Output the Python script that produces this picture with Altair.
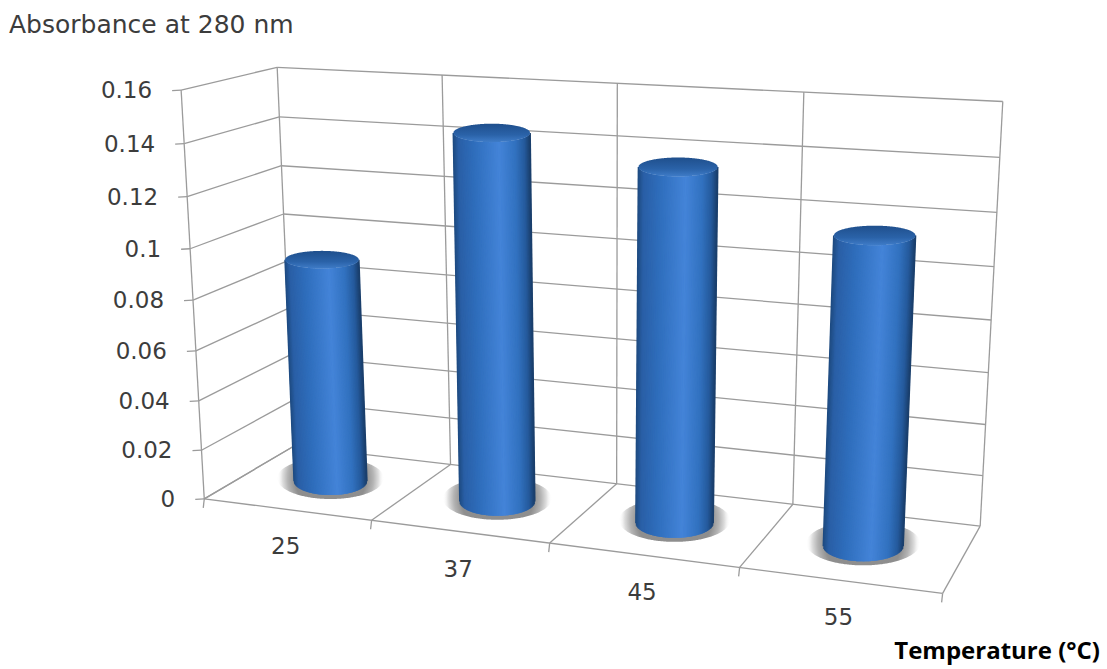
import altair as alt
import numpy as np
import pandas as pd

# Chart values
temperatures = ["25", "37", "45", "55"]
absorbance = [0.091, 0.1445, 0.136, 0.116]
value_ticks = [0, 0.02, 0.04, 0.06, 0.08, 0.1, 0.12, 0.14, 0.16]
value_labels = ["0", "0.02", "0.04", "0.06", "0.08", "0.1", "0.12", "0.14", "0.16"]
y_title = "Absorbance at 280 nm"
x_title = "Temperature (°C)"

W, H = 1107, 669
V_MAX = 0.16

# Camera of the 3-D box: (category position, depth, value) -> screen position,
# solved by least squares from where the edges of the box should land.
camera_anchors = [
    (0, 0, 0, 204, 500), (1, 0, 0, 372, 520), (2, 0, 0, 548, 543), (3, 0, 0, 739, 568),
    (4, 0, 0, 944, 592), (0, 1, 0, 295, 445), (1, 1, 0, 450, 465), (3, 1, 0, 793, 505),
    (4, 1, 0, 980, 526), (0, 0, V_MAX, 182, 90), (0, 1, V_MAX, 276, 67),
    (3, 1, V_MAX, 805, 92), (4, 1, V_MAX, 1002, 102),
]
rows, rhs = [], []
for u, d, v, sx, sy in camera_anchors:
    z = v / V_MAX
    rows.append([u, d, z, 1, 0, 0, 0, 0, -sx * u, -sx * d, -sx * z])
    rhs.append(sx)
    rows.append([0, 0, 0, 0, u, d, z, 1, -sy * u, -sy * d, -sy * z])
    rhs.append(sy)
cam = np.linalg.lstsq(np.array(rows, float), np.array(rhs, float), rcond=None)[0]


def project(u, d, v):
    z = v / V_MAX
    w = cam[8] * u + cam[9] * d + cam[10] * z + 1
    return (
        (cam[0] * u + cam[1] * d + cam[2] * z + cam[3]) / w,
        (cam[4] * u + cam[5] * d + cam[6] * z + cam[7]) / w,
    )


def hex_mix(stops, t):
    pos = [p for p, _ in stops]
    rgb = np.array([[int(c[i:i + 2], 16) for i in (1, 3, 5)] for _, c in stops], float)
    return "#%02x%02x%02x" % tuple(int(round(np.interp(t, pos, rgb[:, i]))) for i in range(3))


# Wall and floor lines
lines = []


def seg(a, b):
    (x, y), (x2, y2) = a, b
    lines.append({"x": x, "y": y, "x2": x2, "y2": y2})


for v in value_ticks:
    seg(project(0, 0, v), project(0, 1, v))
    seg(project(0, 1, v), project(4, 1, v))
    tx, ty = project(0, 0, v)
    seg((tx - 9, ty + 0.5), (tx, ty))
for u in range(5):
    seg(project(u, 1, 0), project(u, 1, V_MAX))
    seg(project(u, 0, 0), project(u, 1, 0))
    tx, ty = project(u, 0, 0)
    seg((tx, ty), (tx - 1, ty + 9))
seg(project(0, 0, 0), project(0, 0, V_MAX))
seg(project(0, 0, 0), project(4, 0, 0))
lines = pd.DataFrame(lines)

# Cylinders: body strips, lids and floor shadows
BODY_SHADES = [
    (-1.0, "#1d4a80"), (-0.86, "#2a5fa6"), (-0.45, "#2f6ebc"),
    (0.2, "#4484d8"), (0.62, "#3272c0"), (0.86, "#255a9c"), (1.0, "#1a3f6c"),
]
RADIUS = 0.215
TOP_FLATTEN = 0.24
BASE_FLATTEN = 0.38


def half_width(c, v):
    # Widths grow more slowly toward the right than the camera alone gives.
    return 19 + 0.5 * (project(c + RADIUS, 0.5, v)[0] - project(c - RADIUS, 0.5, v)[0]) / 2


strips, lids, shadows = [], [], []
for i, (name, val) in enumerate(zip(temperatures, absorbance)):
    c = i + 0.5
    bx, by = project(c, 0.5, 0)
    tx, ty = project(c, 0.5, val)
    a_bot, a_top = half_width(c, 0), half_width(c, val)
    b_bot, b_top = a_bot * BASE_FLATTEN, a_top * TOP_FLATTEN
    for s in np.linspace(-1, 1, 120):
        q = np.sqrt(max(0, 1 - s * s))
        strips.append({
            "x": tx + a_top * s, "y": ty + b_top * q,
            "x2": bx + a_bot * s, "y2": by + b_bot * q,
            "shade": hex_mix(BODY_SHADES, s),
        })
        lids.append({"t": name, "x": tx + a_top * s, "y": ty - b_top * q, "y2": ty + b_top * q})
        shadows.append({
            "t": name, "x": bx + (a_bot + 17) * s,
            "y": by - 3 - (b_bot + 7) * q, "y2": by - 3 + (b_bot + 7) * q,
        })
strips, lids, shadows = map(pd.DataFrame, (strips, lids, shadows))

value_text = pd.DataFrame([
    {"x": project(0, 0, v)[0] - 29, "y": project(0, 0, v)[1] + 1, "label": lab}
    for v, lab in zip(value_ticks, value_labels)
])
cat_text = pd.DataFrame([
    {"x": project(i + 0.5, 0, 0)[0] - 1, "y": project(i + 0.5, 0, 0)[1] + 38, "label": t}
    for i, t in enumerate(temperatures)
])

x_enc = alt.X("x:Q", axis=None, scale=alt.Scale(domain=[0, W], range=[0, W]))
y_enc = alt.Y("y:Q", axis=None, scale=alt.Scale(domain=[0, H], range=[0, H]))

grid = alt.Chart(lines).mark_rule(color="#9b9b9b", strokeWidth=1.3).encode(
    x=x_enc, y=y_enc, x2="x2:Q", y2="y2:Q"
)
shadow = alt.Chart(shadows).mark_area(
    orient="vertical",
    color=alt.Gradient(
        gradient="radial", x1=0.5, y1=0.5, x2=0.5, y2=0.5, r1=0, r2=0.5,
        stops=[
            alt.GradientStop(offset=0, color="#8e8e8e"),
            alt.GradientStop(offset=0.66, color="#8e8e8e"),
            alt.GradientStop(offset=0.8, color="#b4b4b4"),
            alt.GradientStop(offset=0.9, color="#dedede"),
            alt.GradientStop(offset=1, color="rgba(255,255,255,0)"),
        ],
    ),
).encode(x=x_enc, y=y_enc, y2="y2:Q", detail="t:N")
body = alt.Chart(strips).mark_rule(strokeWidth=1.5).encode(
    x=x_enc, y=y_enc, x2="x2:Q", y2="y2:Q", color=alt.Color("shade:N", scale=None)
)
lid = alt.Chart(lids).mark_area(
    orient="vertical",
    color=alt.Gradient(
        gradient="linear", x1=0, y1=0, x2=0, y2=1,
        stops=[
            alt.GradientStop(offset=0, color="#1f4f8c"),
            alt.GradientStop(offset=0.6, color="#2a62a8"),
            alt.GradientStop(offset=1, color="#3f7cc8"),
        ],
    ),
).encode(x=x_enc, y=y_enc, y2="y2:Q", detail="t:N")

value_labels_layer = alt.Chart(value_text).mark_text(
    align="right", baseline="middle", font="DejaVu Sans", fontSize=23, color="#3c3c3c"
).encode(x=x_enc, y=y_enc, text="label:N")
cat_labels_layer = alt.Chart(cat_text).mark_text(
    align="center", baseline="middle", font="DejaVu Sans", fontSize=23, color="#3c3c3c"
).encode(x=x_enc, y=y_enc, text="label:N")

y_title_layer = alt.Chart(pd.DataFrame({"x": [9], "y": [25], "label": [y_title]})).mark_text(
    align="left", baseline="middle", font="DejaVu Sans", fontSize=25, color="#3c3c3c"
).encode(x=x_enc, y=y_enc, text="label:N")
x_title_layer = alt.Chart(pd.DataFrame({"x": [1100], "y": [652], "label": [x_title]})).mark_text(
    align="right", baseline="middle", font="Open Sans", fontWeight="bold", fontSize=24, color="#000000"
).encode(x=x_enc, y=y_enc, text="label:N")

chart = (
    alt.layer(grid, shadow, body, lid, value_labels_layer, cat_labels_layer,
              y_title_layer, x_title_layer)
    .properties(width=W, height=H, padding=0, background="white",
                autosize=alt.AutoSizeParams(type="none"))
    .configure_view(stroke=None)
)
chart.save("out.html", embed_options={"renderer": "svg", "actions": False})
